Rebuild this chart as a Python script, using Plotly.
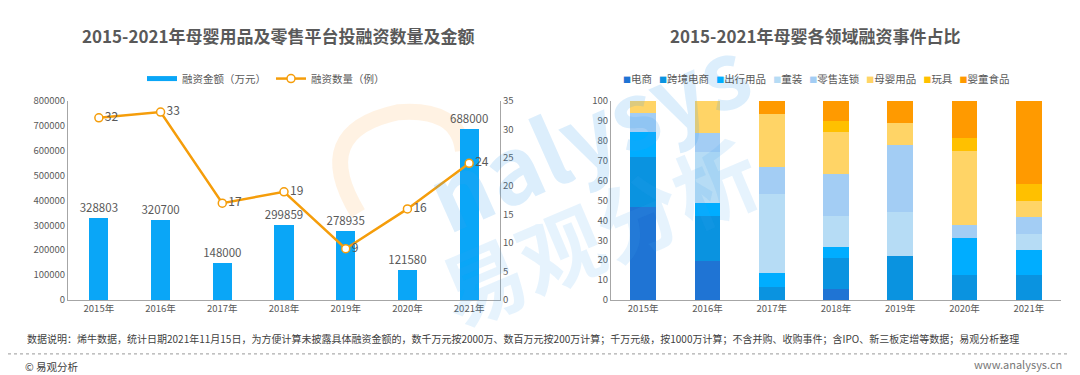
import plotly.graph_objects as go

# ---------------- data ----------------
years = ["2015年", "2016年", "2017年", "2018年", "2019年", "2020年", "2021年"]
amount = [328803, 320700, 148000, 299859, 278935, 121580, 688000]
count = [32, 33, 17, 19, 9, 16, 24]

fields = ["电商", "跨境电商", "出行用品", "童装", "零售连锁", "母婴用品", "玩具", "婴童食品"]
share = {
    "电商":     [46.9, 19.4, 0.0, 5.3, 0.0, 0.0, 0.0],
    "跨境电商": [25.0, 22.6, 6.7, 15.8, 22.2, 12.5, 12.5],
    "出行用品": [12.5, 6.5, 6.7, 5.3, 0.0, 18.75, 12.5],
    "童装":     [0.0, 25.8, 40.0, 15.8, 22.2, 0.0, 8.3],
    "零售连锁": [9.4, 9.7, 13.3, 21.1, 33.3, 6.25, 8.3],
    "母婴用品": [6.2, 16.1, 26.7, 21.1, 11.1, 37.5, 8.3],
    "玩具":     [0.0, 0.0, 0.0, 5.3, 0.0, 6.25, 8.3],
    "婴童食品": [0.0, 0.0, 6.6, 10.3, 11.2, 18.75, 41.8],
}
left_yticks = [0, 100000, 200000, 300000, 400000, 500000, 600000, 700000, 800000]
right_yticks = [0, 5, 10, 15, 20, 25, 30, 35]
pct_ticks = [0, 10, 20, 30, 40, 50, 60, 70, 80, 90, 100]

# ---------------- style ----------------
FONT = "Noto Sans CJK SC"
TXT = "#595959"
BLUE = "#0aa6f7"
ORANGE = "#f59d0a"
field_colors = ["#1f74d4", "#0a93e0", "#00adff", "#b6dcf5", "#a3cdf4",
                "#ffd466", "#ffc000", "#ff9a00"]
W, H = 1080, 375


def px_x(v):
    return v / W


def px_y(v):
    return 1 - v / H


fig = go.Figure()

# left chart: bars
fig.add_trace(go.Bar(
    x=years, y=amount, xaxis="x", yaxis="y", width=0.31,
    marker=dict(color=BLUE, line=dict(width=0)),
    text=[str(v) for v in amount], textposition="outside", constraintext="none",
    textfont=dict(size=11.5, color=TXT, family=FONT), cliponaxis=False,
    showlegend=False, name="融资金额（万元）"))
# legend sample for bars (line style like the reference)
fig.add_trace(go.Scatter(
    x=[None], y=[None], xaxis="x", yaxis="y", mode="lines",
    line=dict(color=BLUE, width=5), name="融资金额（万元）", legend="legend"))
# left chart: line
fig.add_trace(go.Scatter(
    x=years, y=count, xaxis="x", yaxis="y2", mode="lines+markers+text",
    line=dict(color=ORANGE, width=2.5),
    marker=dict(symbol="circle", size=8, color="white", line=dict(color=ORANGE, width=1.5)),
    text=[str(v) for v in count], textposition="middle right",
    textfont=dict(size=12, color=TXT, family=FONT), cliponaxis=False,
    name="融资数量（例）", legend="legend"))

# right chart: stacked bars
for f, c in zip(fields, field_colors):
    fig.add_trace(go.Bar(
        x=years, y=share[f], xaxis="x3", yaxis="y3", width=0.4,
        marker=dict(color=c, line=dict(width=0)), name=f, showlegend=False))

ydom = [px_y(295), px_y(88)]
axis_line = "#a6a6a6"
tickfont = dict(size=9.5, color=TXT, family=FONT)

fig.update_layout(
    width=W, height=H, margin=dict(l=0, r=0, t=0, b=0),
    paper_bgcolor="white", plot_bgcolor="white",
    font=dict(family=FONT, color=TXT),
    barmode="stack",
    xaxis=dict(domain=[px_x(60), px_x(492)], showline=True, linecolor=axis_line,
               ticks="", tickfont=tickfont, showgrid=False),
    yaxis=dict(domain=ydom, range=[0, 800000], tickvals=left_yticks,
               ticktext=[str(v) for v in left_yticks], showline=True, linecolor=axis_line,
               showgrid=False, zeroline=False, tickfont=tickfont, ticks=""),
    yaxis2=dict(overlaying="y", side="right", range=[0, 35], tickvals=right_yticks,
                showline=True, linecolor=axis_line, showgrid=False, zeroline=False,
                tickfont=tickfont, ticks=""),
    xaxis3=dict(domain=[px_x(603), px_x(1053)], anchor="y3", showline=True,
                linecolor=axis_line, ticks="", tickfont=tickfont, showgrid=False),
    yaxis3=dict(domain=ydom, anchor="x3", range=[0, 100], tickvals=pct_ticks,
                ticksuffix="%", showline=True, linecolor=axis_line, showgrid=False,
                zeroline=False, tickfont=tickfont, ticks=""),
    legend=dict(orientation="h", traceorder="normal", x=px_x(258), y=px_y(65),
                xanchor="center", yanchor="middle",
                font=dict(size=10.5, color=TXT, family=FONT), itemwidth=30,
                bgcolor="rgba(0,0,0,0)"),
)

# right legend as compact rich text built from the field list
legend_html = "&nbsp;&nbsp;&nbsp;".join(
    f'<span style="color:{c};font-size:8px">■</span>{f}' for f, c in zip(fields, field_colors))

annotations = [
    # faint watermark
    dict(text="<b>nalysys</b>", x=px_x(578), y=px_y(118), xref="paper", yref="paper",
         showarrow=False, textangle=-24, xanchor="center", yanchor="middle",
         font=dict(size=92, color="rgba(60,160,240,0.18)", family=FONT)),
    dict(text="<b>易观分析</b>", x=px_x(590), y=px_y(222), xref="paper", yref="paper",
         showarrow=False, textangle=-23, xanchor="center", yanchor="middle",
         font=dict(size=84, color="rgba(60,160,240,0.13)", family=FONT)),
    dict(text="<b>2015-2021年母婴用品及零售平台投融资数量及金额</b>", x=px_x(270), y=px_y(20),
         xref="paper", yref="paper", showarrow=False, xanchor="center", yanchor="middle",
         font=dict(size=17, color="#595959", family=FONT)),
    dict(text="<b>2015-2021年母婴各领域融资事件占比</b>", x=px_x(807), y=px_y(20),
         xref="paper", yref="paper", showarrow=False, xanchor="center", yanchor="middle",
         font=dict(size=17, color="#595959", family=FONT)),
    dict(text=legend_html, x=px_x(808), y=px_y(65), xref="paper", yref="paper",
         showarrow=False, xanchor="center", yanchor="middle",
         font=dict(size=10.5, color=TXT, family=FONT)),
    dict(text="数据说明：烯牛数据，统计日期2021年11月15日，为方便计算未披露具体融资金额的，数千万元按2000万、数百万元按200万计算；千万元级，按1000万计算；不含并购、收购事件；含IPO、新三板定增等数据；易观分析整理",
         x=px_x(17), y=px_y(335), xref="paper", yref="paper", showarrow=False,
         xanchor="left", yanchor="middle", font=dict(size=10, color="#404040", family=FONT)),
    dict(text="© 易观分析", x=px_x(15), y=px_y(364), xref="paper", yref="paper", showarrow=False,
         xanchor="left", yanchor="middle", font=dict(size=10.5, color="#404040", family=FONT)),
    dict(text="www.analysys.cn", x=px_x(1056), y=px_y(362), xref="paper", yref="paper",
         showarrow=False, xanchor="right", yanchor="middle",
         font=dict(size=11, color="#777777", family=FONT)),
]
fig.update_layout(annotations=annotations)

# orange arc of the watermark logo (partial ring drawn as a path)
fig.add_shape(type="path", xref="paper", yref="paper", layer="below",
              path=f"M {px_x(350)} {px_y(205)} Q {px_x(300)} {px_y(120)} {px_x(390)} {px_y(100)} "
                   f"Q {px_x(450)} {px_y(95)} {px_x(455)} {px_y(140)}",
              line=dict(color="rgba(255,160,60,0.14)", width=16))

fig.add_shape(type="line", xref="paper", yref="paper", x0=0, x1=px_x(1062),
              y0=px_y(351), y1=px_y(351), line=dict(color="#9a9a9a", width=1, dash="dot"))

fig.write_html("out.html")
